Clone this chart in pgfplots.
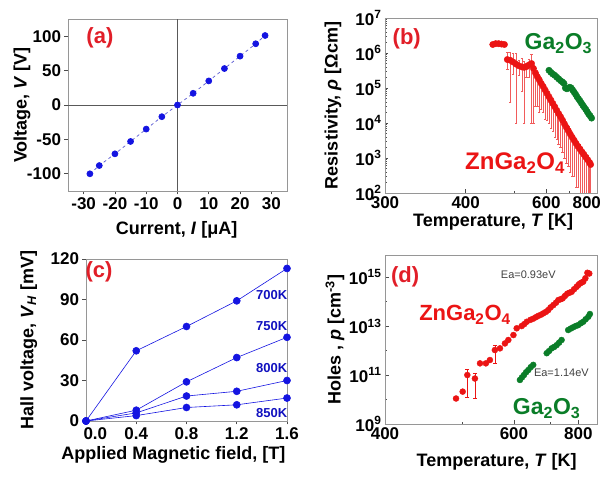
\documentclass[border=0pt]{standalone}
\usepackage{fontspec}
\setmainfont{Liberation Sans}
\usepackage{pgfplots}
\pgfplotsset{compat=1.18}
\definecolor{myred}{RGB}{235,20,20}
\definecolor{labred}{RGB}{225,30,40}
\definecolor{mygreen}{RGB}{10,125,40}
\definecolor{myblue}{RGB}{20,20,225}
\definecolor{lineblue}{RGB}{90,90,210}
\definecolor{framegray}{RGB}{150,150,150}
\pgfplotsset{
  panel/.style={scale only axis, anchor=south west,
    axis line style={draw=framegray, line width=0.8pt},
    tick style={black!70, line width=0.6pt},
    major tick length=3.5pt, minor tick length=2pt,
    /pgf/number format/assume math mode=true,
    tick label style={font=\fontsize{17}{17}\selectfont\bfseries},
    label style={font=\fontsize{18}{18}\selectfont\bfseries},
    tick pos=left},
}
\begin{document}
\begin{tikzpicture}
\useasboundingbox (0,0) rectangle (603pt,479pt);
% ---------------- (a)
\begin{axis}[panel, at={(68pt,288pt)}, width=219pt, height=172pt,
  xmin=-35, xmax=35, ymin=-125, ymax=125,
  xtick={-30,-20,-10,0,10,20,30}, ytick={-100,-50,0,50,100},
  tick align=outside,
  xlabel={Current, \textit{I} [μA]}, ylabel={Voltage, \textit{V} [V]},
  xlabel style={at={(axis description cs:0.496,-0.227)}, anchor=center},
  ylabel style={at={(axis description cs:-0.21,0.5)}, anchor=center}]
\draw[black!65, line width=0.7pt] (axis cs:0,-125) -- (axis cs:0,125);
\draw[black!65, line width=0.7pt] (axis cs:-35,0) -- (axis cs:35,0);
\addplot[lineblue, dashed, line width=0.7pt, mark=*, mark size=3pt,
  mark options={solid, fill=myblue, draw=myblue}] coordinates {
  (-28,-100) (-25,-88) (-20,-71) (-15,-53) (-10,-35) (-5,-17) (0,0)
  (5,17) (10,35) (15,53) (20,71) (25,89) (28,101)};
\node[labred, font=\fontsize{22}{22}\selectfont\bfseries] at (axis cs:-24.8,97) {(a)};
\end{axis}
% ---------------- (b)
\begin{axis}[panel, at={(385pt,286pt)}, width=212pt, height=175pt,
  x dir=reverse, xmin=1.144, xmax=3.3333,
  ymode=log, ymin=1e2, ymax=1e7,
  xtick={3.3333,2.5,1.6667,1.25}, xticklabels={300,400,600,800},
  minor xtick={2,1.4286},
  ytick={1e2,1e3,1e4,1e5,1e6,1e7},
  yticklabels={10\textsuperscript{2},10\textsuperscript{3},10\textsuperscript{4},10\textsuperscript{5},10\textsuperscript{6},10\textsuperscript{7}},
  minor ytick={2e2,3e2,4e2,5e2,6e2,7e2,8e2,9e2,2e3,3e3,4e3,5e3,6e3,7e3,8e3,9e3,2e4,3e4,4e4,5e4,6e4,7e4,8e4,9e4,2e5,3e5,4e5,5e5,6e5,7e5,8e5,9e5,2e6,3e6,4e6,5e6,6e6,7e6,8e6,9e6},
  tick align=inside,
  xlabel={Temperature, \textit{T} [K]}, ylabel={Resistivity, \textit{ρ} [Ωcm]},
  xlabel style={at={(axis description cs:0.51,-0.166)}, anchor=center},
  ylabel style={at={(axis description cs:-0.245,0.5)}, anchor=center}]
\addplot[only marks, myred, mark=*, mark size=3.2pt,
  error bars/.cd, y dir=both, y explicit,
  error bar style={myred!70, line width=0.4pt},
  error mark options={rotate=90, myred!70, mark size=1.2pt}]
  table[x=x, y=y, y error plus=ep, y error minus=em] {
x y ep em
2.22 1.75e6 0 0
2.19 1.85e6 0 0
2.16 1.85e6 0 0
2.13 1.8e6 0 0
2.10 1.75e6 1e5 0
2.07 6.5e5 4e5 3e5
2.04 6.2e5 4e5 5.8e5
2.01 5.5e5 4.5e5 3e5
1.98 4.8e5 5e5 4.7e5
1.95 4.3e5 2e5 2e5
1.92 4.0e5 3e5 3.2e5
1.895 3.9e5 2e5 3.8e5
1.87 4.1e5 1e5 2e5
1.845 4.6e5 2e5 2.5e5
1.82 5.0e5 4e5 4.9e5
1.80 3.6e5 1e5 3.5e5
1.78 2.7e5 1e5 2.4e5
1.76 2.1e5 6e4 1.8e5
1.74 1.7e5 5e4 1.5e5
1.72 1.35e5 4e4 1.1e5
1.70 1.1e5 3e4 9e4
1.68 8.8e4 2e4 7.5e4
1.66 7.0e4 2e4 5.8e4
1.64 5.6e4 1.5e4 4.6e4
1.62 4.5e4 1e4 3.8e4
1.60 3.6e4 1e4 3e4
1.58 2.9e4 8e3 2.5e4
1.56 2.3e4 6e3 1.95e4
1.54 1.85e4 5e3 1.6e4
1.52 1.5e4 4e3 1.3e4
1.50 1.2e4 3e3 1.05e4
1.48 9.4e3 3e3 8.4e3
1.46 7.5e3 2e3 6.8e3
1.44 6.0e3 2e3 5.4e3
1.42 4.8e3 1.5e3 4.4e3
1.40 3.9e3 1e3 3.6e3
1.38 3.2e3 1e3 2.9e3
1.36 2.6e3 8e2 2.45e3
1.34 2.15e3 7e2 2.0e3
1.32 1.8e3 6e2 1.7e3
1.30 1.5e3 5e2 1.43e3
1.28 1.27e3 4e2 1.22e3
1.26 1.06e3 3e2 1.03e3
1.24 8.9e2 3e2 8.7e2
1.22 7.4e2 2e2 7.35e2
1.21 6.5e2 2e2 6.48e2
};
\addplot[only marks, mygreen, mark=*, mark size=3.2pt] coordinates {
(1.64,3.2e5) (1.62,2.8e5) (1.60,2.5e5) (1.58,2.3e5) (1.56,2.04e5)
(1.54,1.82e5) (1.52,1.62e5) (1.50,1.48e5) (1.485,1.35e5) (1.47,1.0e5)
(1.455,9.5e4) (1.44,1.0e5) (1.425,1.05e5) (1.41,1.0e5) (1.395,8.7e4)
(1.38,7.6e4) (1.365,6.6e4) (1.35,5.6e4) (1.335,4.9e4) (1.32,4.3e4)
(1.305,3.7e4) (1.29,3.2e4) (1.275,2.8e4) (1.26,2.45e4) (1.245,2.1e4)
(1.23,1.8e4) (1.215,1.6e4) (1.20,1.38e4)};
\node[labred, font=\fontsize{22}{22}\selectfont\bfseries] at (axis cs:3.109,2.6e6) {(b)};
\node[mygreen, font=\fontsize{23}{23}\selectfont\bfseries] at (axis cs:1.543,1.9e6) {Ga\textsubscript{2}O\textsubscript{3}};
\node[myred, font=\fontsize{24}{24}\selectfont\bfseries] at (axis cs:1.99,7.1e2) {ZnGa\textsubscript{2}O\textsubscript{4}};
\end{axis}
% ---------------- (c)
\begin{axis}[panel, at={(86pt,58pt)}, width=201pt, height=162pt,
  xmin=0, xmax=1.6, ymin=0, ymax=120,
  xtick={0,0.4,0.8,1.2,1.6}, ytick={0,30,60,90,120},
  xticklabels={,0.4,0.8,1.2,1.6},
  tick align=outside, clip=false,
  xlabel={Applied Magnetic field, [T]}, ylabel={Hall voltage, \textit{V}\textsubscript{\textit{H}} [mV]},
  xlabel style={at={(axis description cs:0.435,-0.21)}, anchor=center},
  ylabel style={at={(axis description cs:-0.285,0.5)}, anchor=center}]
\addplot[myblue, line width=0.6pt, mark=*, mark size=3.5pt] coordinates {(0,0) (0.4,52) (0.8,70) (1.2,89) (1.6,113)};
\addplot[myblue, line width=0.6pt, mark=*, mark size=3.5pt] coordinates {(0,0) (0.4,8) (0.8,29) (1.2,47) (1.6,62)};
\addplot[myblue, line width=0.6pt, mark=*, mark size=3.5pt] coordinates {(0,0) (0.4,6) (0.8,18.5) (1.2,22) (1.6,30)};
\addplot[myblue, line width=0.6pt, mark=*, mark size=3.5pt] coordinates {(0,0) (0.4,4) (0.8,10) (1.2,12) (1.6,17)};
\node[anchor=north west, inner sep=0.333em, font=\fontsize{17}{17}\selectfont\bfseries] at ([xshift=-6pt, yshift=-3.5pt]axis cs:0,0) {0.0};
\node[labred, font=\fontsize{22}{22}\selectfont\bfseries] at (axis cs:0.104,110.6) {(c)};
\begin{scope}[every node/.style={anchor=east, text=myblue!85!black, font=\fontsize{13}{13}\selectfont\bfseries}]
\node at (axis cs:1.63,93) {700K};
\node at (axis cs:1.63,70) {750K};
\node at (axis cs:1.63,39) {800K};
\node at (axis cs:1.63,6) {850K};
\end{scope}
\end{axis}
% ---------------- (d)
\begin{axis}[panel, at={(385pt,55pt)}, width=212pt, height=169pt,
  x dir=reverse, xmin=1.13, xmax=2.5,
  ymode=log, ymin=1e9, ymax=8e15,
  xtick={2.5,1.6667,1.25}, xticklabels={400,600,800},
  minor xtick={2,1.4286},
  ytick={1e9,1e11,1e13,1e15},
  yticklabels={10\textsuperscript{9},10\textsuperscript{11},10\textsuperscript{13},10\textsuperscript{15}},
  minor ytick={1e10,1e12,1e14},
  tick align=inside,
  xlabel={Temperature, \textit{T} [K]}, ylabel={Holes , \textit{p} [cm\textsuperscript{-3}]},
  xlabel style={at={(axis description cs:0.527,-0.225)}, anchor=center},
  ylabel style={at={(axis description cs:-0.236,0.5)}, anchor=center}]
\addplot[only marks, myred, mark=*, mark size=3pt,
  error bars/.cd, y dir=both, y explicit,
  error bar style={myred, line width=0.5pt},
  error mark options={rotate=90, myred, mark size=2pt}]
  table[x=x, y=y, y error plus=ep, y error minus=em] {
x y ep em
2.041 1.1e10 0 0
1.998 2.1e10 0 0
1.968 1.0e11 7e10 8.7e10
1.919 7.2e10 4.5e10 6.1e10
1.886 3.0e11 0 0
1.848 3.0e11 0 0
1.822 4.1e11 0 0
1.79 1.05e12 6e11 7.5e11
1.757 1.23e12 0 0
1.725 1.95e12 0 0
1.703 2.7e12 0 0
1.67 4.3e12 0 0
1.649 8.1e12 0 0
1.617 1.0e13 0 0
1.60 1.2e13 0 0
1.584 1.5e13 0 0
1.56 1.8e13 0 0
1.542 2.0e13 0 0
1.525 2.3e13 0 0
1.51 2.6e13 0 0
1.493 2.9e13 0 0
1.477 3.3e13 0 0
1.46 3.8e13 0 0
1.445 4.5e13 0 0
1.43 5.8e13 0 0
1.412 7.2e13 0 0
1.395 9.0e13 0 0
1.38 1.15e14 0 0
1.365 1.25e14 0 0
1.352 1.35e14 0 0
1.337 1.7e14 0 0
1.322 2.1e14 0 0
1.308 2.3e14 0 0
1.294 2.5e14 0 0
1.278 3.2e14 0 0
1.262 4.0e14 0 0
1.25 4.8e14 0 0
1.24 5.5e14 0 0
1.229 6.0e14 0 0
1.219 6.5e14 0 0
1.205 9e14 0 0
1.192 1.5e15 0 0
1.18 1.4e15 0 0
};
\addplot[only marks, mygreen, mark=*, mark size=3pt] coordinates {
(1.628,6.3e10) (1.615,8e10) (1.602,1.0e11) (1.588,1.3e11) (1.574,1.6e11)
(1.558,2.1e11) (1.542,2.6e11) (1.455,7.8e11) (1.44,9.5e11) (1.423,1.23e12)
(1.407,1.4e12) (1.391,1.66e12) (1.375,2.1e12) (1.359,2.7e12) (1.316,6.9e12)
(1.30,7.9e12) (1.284,8.9e12) (1.268,1.0e13) (1.251,1.1e13) (1.235,1.3e13)
(1.219,1.5e13) (1.203,1.9e13) (1.186,2.4e13) (1.176,3.1e13)};
\node[labred, font=\fontsize{22}{22}\selectfont\bfseries] at (axis cs:2.37,1.0e15) {(d)};
\node[black!75, font=\fontsize{11}{11}\selectfont] at (axis cs:1.574,1.2e15) {Ea=0.93eV};
\node[myred, font=\fontsize{22}{22}\selectfont\bfseries] at (axis cs:1.983,2.8e13) {ZnGa\textsubscript{2}O\textsubscript{4}};
\node[black!75, font=\fontsize{11}{11}\selectfont] at (axis cs:1.36,1.2e11) {Ea=1.14eV};
\node[mygreen, font=\fontsize{23}{23}\selectfont\bfseries] at (axis cs:1.455,4.4e9) {Ga\textsubscript{2}O\textsubscript{3}};
\end{axis}
\end{tikzpicture}
\end{document}
